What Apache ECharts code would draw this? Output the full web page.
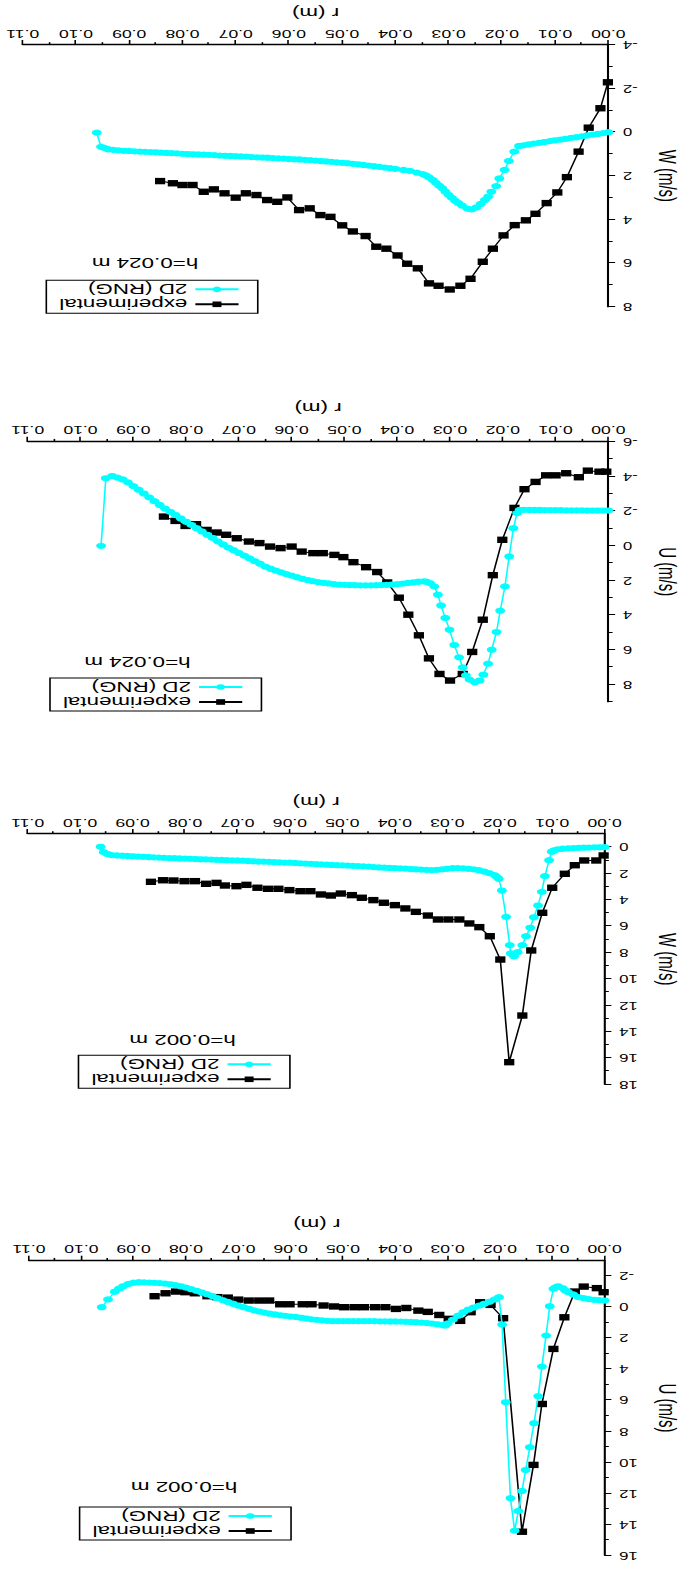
<!DOCTYPE html>
<html><head><meta charset="utf-8">
<script src="https://cdn.jsdelivr.net/npm/echarts@6/dist/echarts.min.js"></script>
<style>
html,body{margin:0;padding:0;background:#fff;width:692px;height:1574px;overflow:hidden;}
#chart{position:absolute;left:0;top:0;width:432.5px;height:1574px;transform-origin:0 0;transform:matrix(-1.6,0,0,-1,692,1574);}
</style></head><body><div id="chart"></div>
<script>
// ---------------- data: [r (m), value (m/s)] ----------------
const expU002 = [[0.0002,-0.97],[0.0015,-1.23],[0.0040,-1.33],[0.0057,-1.01],[0.0077,0.65],[0.0098,2.69],[0.0120,6.24],[0.0136,10.17],[0.0158,14.48],[0.0194,0.71],[0.0218,-0.15],[0.0238,-0.32],[0.0256,0.32],[0.0276,0.88],[0.0298,0.75],[0.0316,0.50],[0.0338,0.30],[0.0356,0.22],[0.0379,0.05],[0.0399,0.11],[0.0419,0.00],[0.0439,0.00],[0.0460,0.00],[0.0478,0.00],[0.0498,0.00],[0.0517,-0.05],[0.0537,-0.11],[0.0560,-0.19],[0.0577,-0.19],[0.0602,-0.19],[0.0620,-0.19],[0.0641,-0.43],[0.0660,-0.43],[0.0680,-0.43],[0.0700,-0.49],[0.0720,-0.62],[0.0740,-0.65],[0.0759,-0.71],[0.0783,-0.90],[0.0801,-0.97],[0.0819,-1.01],[0.0839,-0.90],[0.0860,-0.71]];
const rngU002 = [[0.000,-0.43],[0.001,-0.45],[0.002,-0.48],[0.003,-0.52],[0.004,-0.58],[0.005,-0.65],[0.006,-0.82],[0.007,-0.98],[0.0075,-1.07],[0.008,-1.22],[0.0089,-1.35],[0.0094,-1.28],[0.0098,-1.18],[0.0105,-0.06],[0.0112,1.83],[0.0120,3.83],[0.0127,5.74],[0.0135,7.48],[0.0143,9.03],[0.0151,10.50],[0.0158,11.85],[0.0165,13.14],[0.0172,14.41],[0.0180,12.32],[0.0189,6.13],[0.0196,1.12],[0.0202,-0.65],[0.021,-0.50],[0.022,-0.35],[0.023,-0.22],[0.024,-0.10],[0.025,0.02],[0.026,0.15],[0.027,0.32],[0.028,0.55],[0.029,0.80],[0.030,1.05],[0.0305,1.19],[0.031,1.15],[0.032,1.10],[0.033,1.06],[0.034,1.02],[0.035,0.99],[0.036,0.97],[0.037,0.95],[0.038,0.94],[0.039,0.93],[0.040,0.92],[0.041,0.92],[0.042,0.91],[0.043,0.91],[0.044,0.90],[0.045,0.90],[0.046,0.90],[0.047,0.90],[0.048,0.90],[0.049,0.90],[0.050,0.90],[0.051,0.90],[0.052,0.90],[0.053,0.88],[0.054,0.85],[0.055,0.82],[0.056,0.78],[0.057,0.73],[0.058,0.68],[0.059,0.63],[0.060,0.60],[0.061,0.56],[0.062,0.52],[0.063,0.47],[0.064,0.42],[0.065,0.35],[0.066,0.28],[0.067,0.20],[0.068,0.10],[0.069,0.00],[0.070,-0.10],[0.071,-0.22],[0.072,-0.34],[0.073,-0.46],[0.074,-0.58],[0.075,-0.72],[0.076,-0.84],[0.077,-0.95],[0.078,-1.06],[0.079,-1.16],[0.080,-1.26],[0.081,-1.35],[0.082,-1.42],[0.083,-1.48],[0.084,-1.52],[0.085,-1.55],[0.086,-1.57],[0.087,-1.59],[0.088,-1.60],[0.089,-1.61],[0.090,-1.58],[0.091,-1.50],[0.092,-1.35],[0.0928,-1.20],[0.0936,-1.00],[0.0949,-0.50],[0.0961,0.00]];

const expW002 = [[0.0002,0.63],[0.0016,1.01],[0.0039,1.01],[0.0057,1.37],[0.0076,2.02],[0.0100,3.08],[0.0119,4.98],[0.0140,7.84],[0.0157,12.78],[0.0182,16.32],[0.0199,8.53],[0.0219,6.76],[0.0239,6.07],[0.0258,5.79],[0.0277,5.49],[0.0298,5.49],[0.0318,5.49],[0.0337,5.19],[0.0360,4.91],[0.0380,4.65],[0.0400,4.40],[0.0421,4.22],[0.0441,4.02],[0.0463,3.84],[0.0482,3.64],[0.0503,3.52],[0.0522,3.67],[0.0541,3.59],[0.0561,3.34],[0.0580,3.34],[0.0601,3.26],[0.0622,3.16],[0.0642,3.16],[0.0662,3.08],[0.0683,2.86],[0.0702,2.96],[0.0724,2.91],[0.0740,2.71],[0.0760,2.78],[0.0781,2.58],[0.0801,2.58],[0.0822,2.53],[0.0842,2.51],[0.0865,2.63]];
const rngW002 = [[0.000,0.00],[0.001,0.01],[0.002,0.02],[0.003,0.03],[0.004,0.04],[0.005,0.05],[0.006,0.07],[0.007,0.09],[0.008,0.12],[0.009,0.17],[0.0097,0.25],[0.0101,0.35],[0.0106,0.99],[0.0114,2.20],[0.0120,3.39],[0.0127,4.43],[0.0135,5.32],[0.0142,6.12],[0.0150,6.76],[0.0157,7.44],[0.0166,7.97],[0.0173,8.28],[0.0179,8.07],[0.0181,7.44],[0.0188,5.29],[0.0196,3.29],[0.0202,2.40],[0.0206,2.25],[0.021,2.12],[0.022,1.97],[0.023,1.85],[0.024,1.75],[0.025,1.69],[0.026,1.64],[0.027,1.61],[0.028,1.59],[0.029,1.60],[0.030,1.64],[0.031,1.69],[0.032,1.72],[0.033,1.74],[0.034,1.72],[0.035,1.70],[0.036,1.68],[0.037,1.66],[0.038,1.63],[0.039,1.61],[0.040,1.59],[0.041,1.58],[0.042,1.56],[0.043,1.54],[0.044,1.51],[0.045,1.48],[0.046,1.46],[0.047,1.44],[0.048,1.42],[0.049,1.40],[0.050,1.38],[0.051,1.37],[0.052,1.35],[0.053,1.33],[0.054,1.31],[0.055,1.29],[0.056,1.27],[0.057,1.25],[0.058,1.23],[0.059,1.20],[0.060,1.18],[0.061,1.17],[0.062,1.15],[0.063,1.14],[0.064,1.12],[0.065,1.10],[0.066,1.09],[0.067,1.07],[0.068,1.05],[0.069,1.03],[0.070,1.01],[0.071,1.00],[0.072,0.99],[0.073,0.97],[0.074,0.96],[0.075,0.95],[0.076,0.93],[0.077,0.92],[0.078,0.90],[0.079,0.89],[0.080,0.87],[0.081,0.86],[0.082,0.84],[0.083,0.83],[0.084,0.81],[0.085,0.79],[0.086,0.77],[0.087,0.75],[0.088,0.73],[0.089,0.71],[0.090,0.69],[0.091,0.67],[0.092,0.65],[0.093,0.63],[0.094,0.60],[0.0948,0.52],[0.0955,0.38],[0.0961,-0.03]];

const expU024 = [[0.0004,-4.27],[0.0017,-4.27],[0.0039,-4.33],[0.0056,-3.95],[0.0080,-4.18],[0.0100,-4.06],[0.0118,-4.06],[0.0138,-3.68],[0.0159,-3.26],[0.0178,-2.18],[0.0201,-0.34],[0.0219,1.70],[0.0238,4.27],[0.0258,6.13],[0.0276,7.40],[0.0300,7.78],[0.0320,7.40],[0.0340,6.50],[0.0359,5.17],[0.0379,3.98],[0.0397,3.00],[0.0419,2.12],[0.0438,1.52],[0.0459,1.24],[0.0483,0.95],[0.0502,0.66],[0.0519,0.53],[0.0541,0.43],[0.0559,0.43],[0.0581,0.34],[0.0600,0.05],[0.0621,0.14],[0.0641,0.05],[0.0661,-0.15],[0.0681,-0.24],[0.0704,-0.43],[0.0724,-0.63],[0.0742,-0.76],[0.0761,-0.91],[0.0781,-1.24],[0.0801,-1.14],[0.0820,-1.43],[0.0842,-1.68]];
const rngU024 = [[0.000,-2.03],[0.001,-2.03],[0.002,-2.03],[0.003,-2.03],[0.004,-2.03],[0.005,-2.04],[0.006,-2.04],[0.007,-2.04],[0.008,-2.04],[0.009,-2.05],[0.010,-2.05],[0.011,-2.05],[0.012,-2.05],[0.013,-2.06],[0.014,-2.06],[0.015,-2.06],[0.016,-2.07],[0.0168,-2.07],[0.0173,-1.88],[0.0180,-1.01],[0.0188,0.62],[0.0196,2.35],[0.0205,3.75],[0.0212,4.98],[0.0221,6.00],[0.0228,6.81],[0.0237,7.44],[0.0244,7.78],[0.0253,7.88],[0.0263,7.73],[0.0270,7.48],[0.0276,7.02],[0.0283,6.44],[0.0292,5.73],[0.0301,4.85],[0.0309,4.17],[0.0317,3.45],[0.0323,2.83],[0.0330,2.35],[0.0338,2.16],[0.0345,2.08],[0.035,2.06],[0.036,2.08],[0.037,2.12],[0.038,2.15],[0.039,2.19],[0.040,2.22],[0.041,2.24],[0.042,2.26],[0.043,2.27],[0.044,2.28],[0.045,2.29],[0.046,2.29],[0.047,2.29],[0.048,2.28],[0.049,2.27],[0.050,2.26],[0.051,2.25],[0.052,2.22],[0.053,2.18],[0.054,2.14],[0.055,2.10],[0.056,2.05],[0.057,1.98],[0.058,1.91],[0.059,1.82],[0.060,1.73],[0.061,1.64],[0.062,1.54],[0.063,1.44],[0.064,1.33],[0.065,1.21],[0.066,1.04],[0.067,0.89],[0.068,0.73],[0.069,0.57],[0.070,0.42],[0.071,0.26],[0.072,0.11],[0.073,-0.07],[0.074,-0.25],[0.075,-0.45],[0.076,-0.63],[0.077,-0.82],[0.078,-1.01],[0.079,-1.20],[0.080,-1.38],[0.081,-1.57],[0.082,-1.77],[0.083,-1.95],[0.084,-2.14],[0.085,-2.35],[0.086,-2.57],[0.087,-2.79],[0.088,-3.01],[0.089,-3.23],[0.090,-3.44],[0.091,-3.65],[0.092,-3.82],[0.093,-3.93],[0.094,-4.02],[0.0952,-3.89],[0.0961,0.01]];

const expW024 = [[0.0001,-2.29],[0.0015,-1.10],[0.0037,-0.21],[0.0056,0.89],[0.0078,2.06],[0.0096,2.76],[0.0116,3.25],[0.0137,3.74],[0.0155,4.04],[0.0176,4.26],[0.0197,4.73],[0.0217,5.34],[0.0236,5.94],[0.0259,6.72],[0.0278,7.04],[0.0298,7.21],[0.0319,7.04],[0.0337,6.93],[0.0358,6.24],[0.0378,6.03],[0.0396,5.65],[0.0417,5.34],[0.0436,5.25],[0.0456,4.76],[0.0480,4.55],[0.0500,4.27],[0.0522,3.88],[0.0541,3.80],[0.0561,3.49],[0.0581,3.57],[0.0603,2.99],[0.0622,3.19],[0.0641,3.11],[0.0661,2.88],[0.0681,2.80],[0.0700,3.00],[0.0721,2.80],[0.0741,2.62],[0.0760,2.73],[0.0781,2.42],[0.0800,2.42],[0.0818,2.34],[0.0842,2.24]];
const rngW024 = [[0.000,0.00],[0.001,0.04],[0.002,0.08],[0.003,0.11],[0.004,0.15],[0.005,0.19],[0.006,0.23],[0.007,0.26],[0.008,0.30],[0.009,0.34],[0.010,0.37],[0.011,0.41],[0.012,0.45],[0.013,0.49],[0.014,0.52],[0.015,0.56],[0.016,0.60],[0.0168,0.63],[0.0177,0.89],[0.0187,1.32],[0.0195,1.73],[0.0205,2.12],[0.0211,2.47],[0.0220,2.73],[0.0226,2.96],[0.0232,3.11],[0.0240,3.29],[0.0248,3.45],[0.0257,3.54],[0.0265,3.50],[0.0275,3.36],[0.0282,3.24],[0.0288,3.14],[0.0294,3.01],[0.0300,2.88],[0.0306,2.73],[0.0312,2.57],[0.0318,2.45],[0.0324,2.32],[0.0330,2.19],[0.0337,2.07],[0.0343,1.98],[0.0349,1.92],[0.0360,1.85],[0.0373,1.77],[0.0385,1.73],[0.040,1.68],[0.041,1.65],[0.042,1.62],[0.043,1.59],[0.044,1.56],[0.045,1.53],[0.046,1.50],[0.047,1.47],[0.048,1.45],[0.049,1.42],[0.050,1.40],[0.051,1.38],[0.052,1.36],[0.053,1.34],[0.054,1.32],[0.055,1.30],[0.056,1.28],[0.057,1.27],[0.058,1.25],[0.059,1.24],[0.060,1.23],[0.061,1.21],[0.062,1.20],[0.063,1.19],[0.064,1.17],[0.065,1.16],[0.066,1.15],[0.067,1.14],[0.068,1.12],[0.069,1.11],[0.070,1.10],[0.071,1.09],[0.072,1.08],[0.073,1.07],[0.074,1.05],[0.075,1.04],[0.076,1.03],[0.077,1.02],[0.078,1.01],[0.079,1.00],[0.080,0.99],[0.081,0.97],[0.082,0.96],[0.083,0.95],[0.084,0.94],[0.085,0.92],[0.086,0.91],[0.087,0.90],[0.088,0.89],[0.089,0.88],[0.090,0.86],[0.091,0.85],[0.092,0.83],[0.093,0.81],[0.094,0.78],[0.0947,0.72],[0.0953,0.67],[0.0961,0.02]];

// ---------------- tick labels ----------------
const yTicksU002 = [-2,0,2,4,6,8,10,12,14,16];
const yMinorU002 = [-1,1,3,5,7,9,11,13,15];
const yTicksW002 = [0,2,4,6,8,10,12,14,16,18];
const yMinorW002 = [1,3,5,7,9,11,13,15,17];
const yTicksU024 = [-6,-4,-2,0,2,4,6,8];
const yMinorU024 = [-5,-3,-1,1,3,5,7,9];
const yTicksW024 = [-4,-2,0,2,4,6,8];
const yMinorW024 = [-3,-1,1,3,5,7];
const legendNames = ['experimental','2D (RNG)'];

// ---------------- layout (drawn in an unflipped frame, then mirrored by CSS) ----------------
const FONT = '"Liberation Sans", Arial, Helvetica, sans-serif';
const panels = [
  {exp:expU002, rng:rngU002, yName:'U (m/s)', yMin:-3, yMax:16, ticks:yTicksU002, minor:yMinorU002, h:'h=0.002 m',
   grid:{left:44.8, top:18.7, width:369.6, height:294.6}, legend:{left:250.6, top:34}, hPos:[317.5, 87.3], xNameGap:30, yNameGap:26},
  {exp:expW002, rng:rngW002, yName:'W (m/s)', yMin:-1, yMax:18, ticks:yTicksW002, minor:yMinorW002, h:'h=0.002 m',
   grid:{left:45.8, top:489.7, width:369.4, height:250.3}, legend:{left:251.3, top:485.7}, hPos:[318.4, 534], xNameGap:25, yNameGap:26},
  {exp:expU024, rng:rngU024, yName:'U (m/s)', yMin:-6, yMax:9, ticks:yTicksU024, minor:yMinorU024, h:'h=0.024 m',
   grid:{left:45.8, top:872.3, width:369.4, height:260}, legend:{left:269.1, top:863}, hPos:[346.6, 912.3], xNameGap:27, yNameGap:23},
  {exp:expW024, rng:rngW024, yName:'W (m/s)', yMin:-4, yMax:8, ticks:yTicksW024, minor:yMinorW024, h:'h=0.024 m',
   grid:{left:43.3, top:1267.3, width:375, height:261.7}, legend:{left:271.4, top:1260.7}, hPos:[341.9, 1311], xNameGap:25, yNameGap:23}
];

const grid=[], xAxis=[], yAxis=[], series=[], legend=[], graphic=[];
panels.forEach((p,i)=>{
  grid.push(Object.assign({containLabel:false}, p.grid));
  xAxis.push({
    type:'value', gridIndex:i, min:0, max:0.11, interval:0.01,
    name:'r (m)', nameLocation:'middle', nameGap:p.xNameGap,
    nameTextStyle:{fontFamily:FONT, fontSize:14, color:'#000'},
    axisLine:{show:true, onZero:false, lineStyle:{color:'#000', width:1.3}},
    axisTick:{show:true, length:5, lineStyle:{color:'#000', width:1}},
    minorTick:{show:true, splitNumber:2, length:2.8, lineStyle:{color:'#000', width:1}},
    axisLabel:{fontFamily:FONT, fontSize:11, color:'#000', margin:6, formatter:v=>v.toFixed(2)},
    splitLine:{show:false}, minorSplitLine:{show:false}
  });
  const mainIdx = yAxis.length;
  yAxis.push({
    type:'value', gridIndex:i, min:p.yMin, max:p.yMax, position:'left',
    name:p.yName, nameLocation:'middle', nameGap:p.yNameGap, nameRotate:90,
    nameTextStyle:{fontFamily:FONT, fontSize:15, color:'#000'},
    axisLine:{show:true, onZero:false, lineStyle:{color:'#000', width:1.3}},
    axisTick:{show:true, length:4.2, customValues:p.ticks, lineStyle:{color:'#000', width:1}},
    axisLabel:{fontFamily:FONT, fontSize:10.5, color:'#000', margin:9, customValues:p.ticks},
    splitLine:{show:false}
  });
  yAxis.push({
    type:'value', gridIndex:i, min:p.yMin, max:p.yMax, position:'left', offset:0,
    axisLine:{show:false},
    axisTick:{show:true, length:2.6, customValues:p.minor, lineStyle:{color:'#000', width:1}},
    axisLabel:{show:false}, splitLine:{show:false}
  });
  series.push({
    name:legendNames[0], type:'line', xAxisIndex:i, yAxisIndex:mainIdx,
    data:p.exp, symbol:'rect', symbolSize:6.4,
    lineStyle:{color:'#000', width:1}, itemStyle:{color:'#000'}, z:2
  });
  series.push({
    name:legendNames[1], type:'line', xAxisIndex:i, yAxisIndex:mainIdx,
    data:p.rng, symbol:'circle', symbolSize:6.2,
    lineStyle:{color:'#00FFFF', width:1}, itemStyle:{color:'#00FFFF'}, z:3
  });
  legend.push({
    orient:'vertical', left:p.legend.left, top:p.legend.top, data:legendNames,
    itemWidth:27, itemHeight:7, itemGap:1, padding:[2,8,2,11],
    borderColor:'#000', borderWidth:1, borderRadius:0, selectedMode:false,
    textStyle:{fontFamily:FONT, fontSize:14, color:'#000'}
  });
  graphic.push({
    type:'text', x:p.hPos[0], y:p.hPos[1],
    style:{text:p.h, fontFamily:FONT, fontSize:14, fill:'#000', align:'center', verticalAlign:'middle', textAlign:'center', textVerticalAlign:'middle'}
  });
});

const chart = echarts.init(document.getElementById('chart'), null, {renderer:'svg'});
chart.setOption({animation:false, backgroundColor:'#fff', grid, xAxis, yAxis, series, legend, graphic});
</script>
</body></html>
